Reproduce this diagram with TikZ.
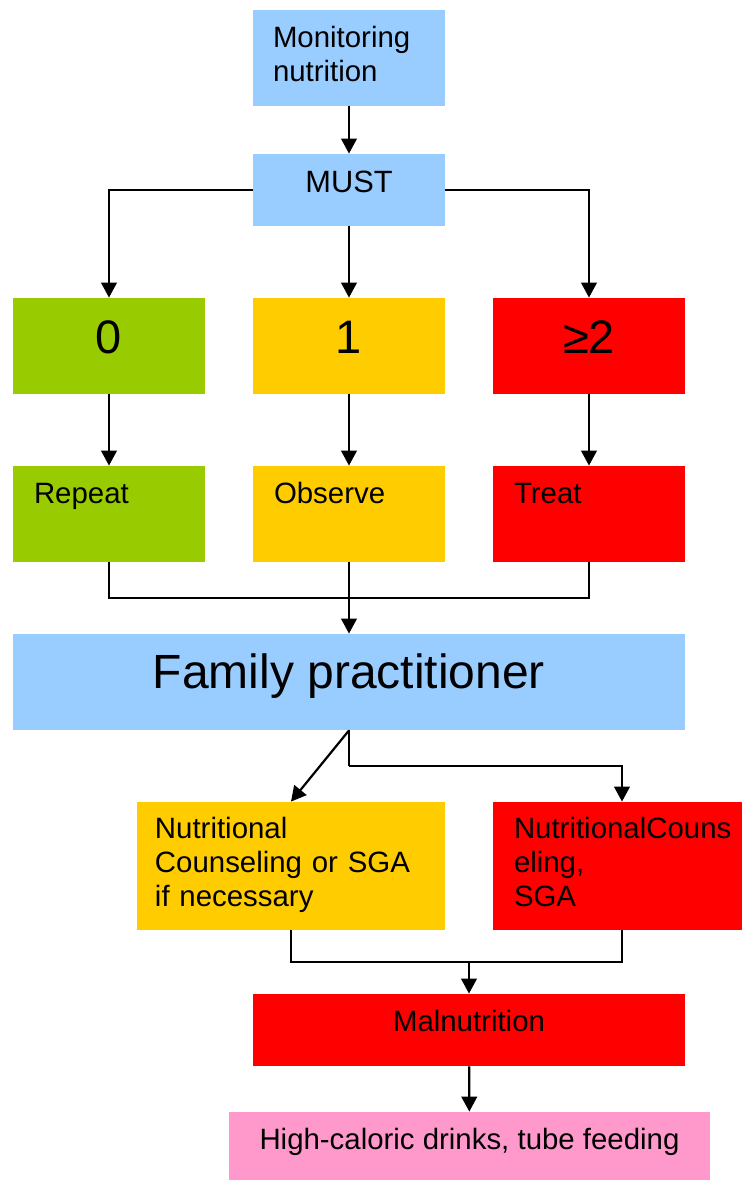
\documentclass[tikz,border=0pt]{standalone}
\usepackage{fontspec}
\setmainfont{Liberation Sans}
\usetikzlibrary{arrows.meta}

\definecolor{skyblue}{HTML}{99CCFF}
\definecolor{leaf}{HTML}{99CC00}
\definecolor{amber}{HTML}{FFCC00}
\definecolor{alarm}{HTML}{FF0000}
\definecolor{rose}{HTML}{FF99CC}

\begin{document}
\begin{tikzpicture}[x=0.5pt, y=-0.5pt]
        \tikzstyle{box}=[rectangle, inner sep=0pt, font=\fontsize{14.7}{17}\selectfont]
        \tikzstyle{big}=[font=\fontsize{23.5}{27}\selectfont]
        \tikzstyle{arr}=[-{Triangle[length=7.5pt,width=7.8pt]}, line width=1.1pt]
        \tikzstyle{wire}=[line width=1.1pt]

        \useasboundingbox (0,0) rectangle (742,1180);

        \node (mon) [box, fill=skyblue, minimum width=96pt, minimum height=48pt, text width=76pt, align=left, text height=0pt, text depth=11pt] at (349,58) {Monitoring\\nutrition};
        \node (must) [box, fill=skyblue, font=\fontsize{15.4}{18}\selectfont, minimum width=96pt, minimum height=36pt, text height=6pt, text depth=4pt] at (349,190) {MUST};

        \node (b0) [box, big, fill=leaf, minimum width=96pt, minimum height=48pt, text height=7pt, text depth=0pt] at (109,346) {0};
        \node (b1) [box, big, fill=amber, minimum width=96pt, minimum height=48pt, text height=7pt, text depth=0pt] at (349,346) {1};
        \node (b2) [box, big, fill=alarm, minimum width=96pt, minimum height=48pt, text height=7pt, text depth=0pt] at (589,346) {≥2};

        \node (rep) [box, fill=leaf, minimum width=96pt, minimum height=48pt, text width=75pt, align=left, text height=0pt, text depth=11pt] at (109,514) {Repeat};
        \node (obs) [box, fill=amber, minimum width=96pt, minimum height=48pt, text width=75pt, align=left, text height=0pt, text depth=11pt] at (349,514) {Observe};
        \node (tre) [box, fill=alarm, minimum width=96pt, minimum height=48pt, text width=75pt, align=left, text height=0pt, text depth=11pt] at (589,514) {Treat};

        \node (fam) [box, fill=skyblue, font=\fontsize{24}{28}\selectfont, minimum width=336pt, minimum height=48pt, text height=6pt, text depth=0pt] at (349,682) {Family practitioner};

        \node (ncy) [box, fill=amber, minimum width=154pt, minimum height=64pt, text width=136pt, align=left, text height=0pt, text depth=28pt] at (291,866) {Nutritional\\Counseling or SGA\\if necessary};
        \node (ncr) [box, fill=alarm, minimum width=129pt, minimum height=64pt, text width=108pt, align=left, text height=0pt, text depth=28pt] at (622,866) {NutritionalCouns\\eling,\\SGA};

        \node (mal) [box, fill=alarm, minimum width=216pt, minimum height=36pt, text height=1pt, text depth=0pt] at (469,1030) {Malnutrition};
        \node (hc) [box, fill=rose, minimum width=240.5pt, minimum height=36pt, text height=1pt, text depth=0pt] at (469.5,1148) {High-caloric drinks, tube feeding};

        \coordinate (j1) at (349,598);
        \coordinate (j2) at (349,766);
        \coordinate (j3) at (469,962);

        % top part
        \draw[arr] (mon) -- (must);
        \draw[arr] (must.west) -| (b0);
        \draw[arr] (must) -- (b1);
        \draw[arr] (must.east) -| (b2);
        \draw[arr] (b0) -- (rep);
        \draw[arr] (b1) -- (obs);
        \draw[arr] (b2) -- (tre);

        % merge into family practitioner
        \draw[wire] (rep) |- (j1) -| (tre);
        \draw[arr] (obs) -- (fam);

        % split and merge again
        \draw[arr] (fam.south) -- (ncy.north);
        \draw[wire] (fam.south) |- (j2);
        \draw[arr] (j2) -| (ncr);
        \draw[wire] (ncy) |- (j3) -| (ncr);
        \draw[arr] (j3) -- (mal);
        \draw[arr] (mal) -- (hc);
\end{tikzpicture}
\end{document}
